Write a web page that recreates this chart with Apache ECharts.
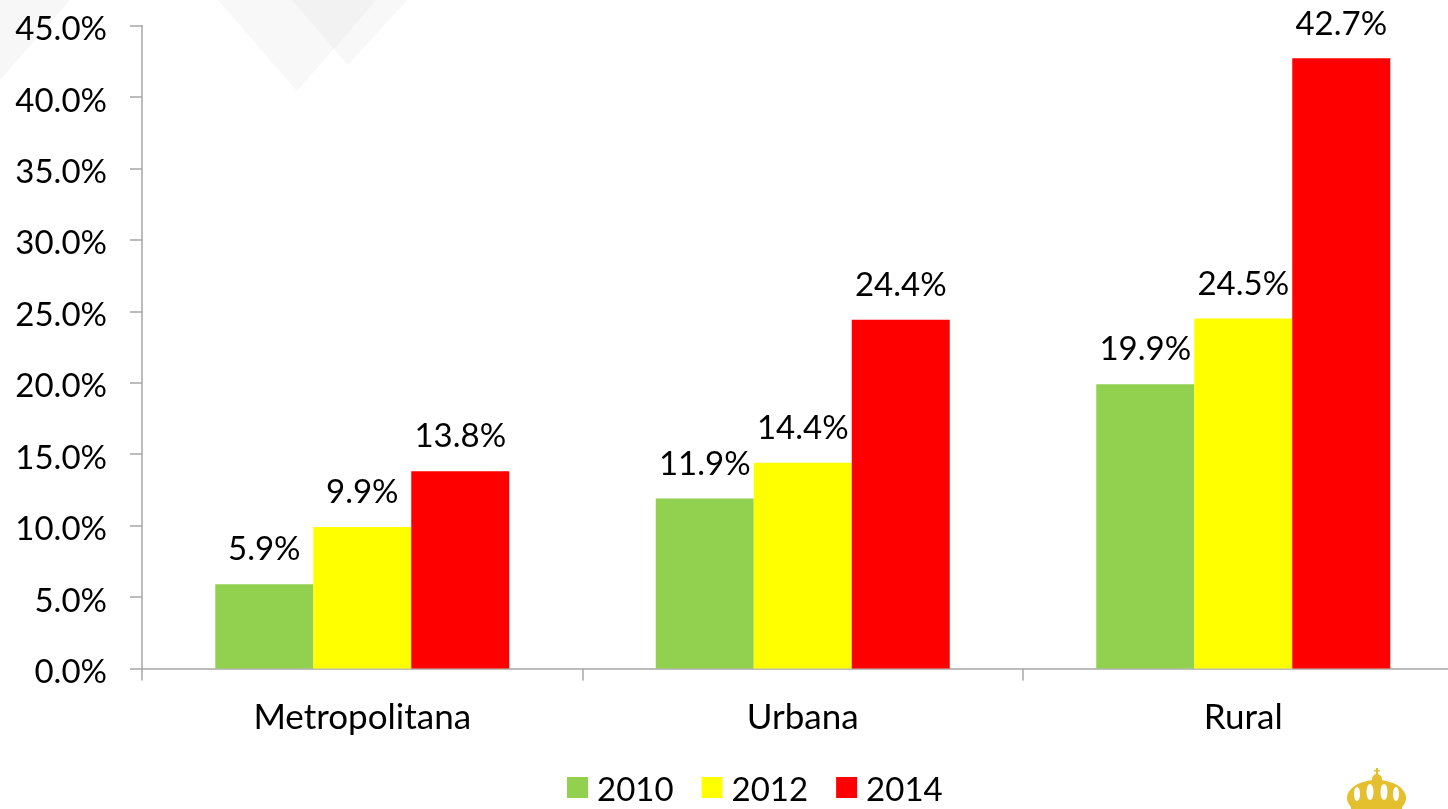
<!DOCTYPE html>
<html>
<head>
<meta charset="utf-8">
<title>Chart</title>
<script src="https://cdn.jsdelivr.net/npm/echarts@6/dist/echarts.min.js"></script>
<style>
  html, body { margin: 0; padding: 0; background: #fff; }
  #main { width: 1448px; height: 809px; }
</style>
</head>
<body>
<div id="main"></div>
<script>
const categories = ['Metropolitana', 'Urbana', 'Rural']
const values2010 = [5.9, 11.9, 19.9]
const values2012 = [9.9, 14.4, 24.5]
const values2014 = [13.8, 24.4, 42.7]

const font = 'Lato, "Open Sans", sans-serif'
const gold = '#E4C02E'

function barSeries (name, color, data) {
  return {
    name: name,
    type: 'bar',
    barWidth: 98,
    barGap: 0,
    itemStyle: { color: color },
    label: {
      show: true,
      position: 'top',
      distance: 18,
      color: '#000',
      fontFamily: font,
      fontSize: 33,
      formatter: p => p.value.toFixed(1) + '%'
    },
    data: data
  }
}

// faint watermark in the slide background and the crown logo in the corner
const decoration = [
  { type: 'polygon', z: -1, shape: { points: [[0, 0], [70, 0], [0, 80]] }, style: { fill: '#f7f7f7' } },
  { type: 'polygon', z: -1, shape: { points: [[218, 0], [297, 91], [376, 0]] }, style: { fill: '#f8f8f8' } },
  { type: 'polygon', z: -1, shape: { points: [[292, 0], [348, 65], [407, 0]] }, style: { fill: '#f8f8f8' } },
  { type: 'polygon', z: -1, shape: { points: [[292, 0], [334, 49], [376, 0]] }, style: { fill: '#f2f2f2' } },
  { type: 'ellipse', shape: { cx: 1376.5, cy: 798, rx: 29.5, ry: 18 }, style: { fill: gold } },
  { type: 'rect', shape: { x: 1351, y: 802, width: 51, height: 7 }, style: { fill: gold } },
  { type: 'circle', shape: { cx: 1377, cy: 779, r: 5 }, style: { fill: gold } },
  { type: 'rect', shape: { x: 1376, y: 768, width: 2, height: 8 }, style: { fill: gold } },
  { type: 'rect', shape: { x: 1374, y: 770, width: 6, height: 1.5 }, style: { fill: gold } },
  { type: 'ellipse', shape: { cx: 1357, cy: 794, rx: 3, ry: 7 }, style: { fill: '#fff' } },
  { type: 'ellipse', shape: { cx: 1370, cy: 792, rx: 3.5, ry: 8 }, style: { fill: '#fff' } },
  { type: 'ellipse', shape: { cx: 1384, cy: 792, rx: 3.5, ry: 8 }, style: { fill: '#fff' } },
  { type: 'ellipse', shape: { cx: 1396, cy: 794, rx: 3, ry: 7 }, style: { fill: '#fff' } }
]

const myChart = echarts.init(document.getElementById('main'))
myChart.setOption({
  animation: false,
  backgroundColor: '#fff',
  graphic: decoration,
  // the axis runs past the right edge of the picture in the original
  grid: { left: 142, top: 25.5, width: 1321.5, height: 643, containLabel: false, outerBoundsMode: 'none' },
  legend: {
    left: 562,
    top: 769,
    icon: 'rect',
    itemWidth: 21,
    itemHeight: 21,
    itemGap: 28,
    formatter: '{t|{name}}',
    textStyle: {
      color: '#000',
      fontFamily: font,
      fontSize: 33,
      rich: { t: { color: '#000', fontFamily: font, fontSize: 33, padding: [6, 0, 0, 4] } }
    },
    data: ['2010', '2012', '2014']
  },
  xAxis: {
    type: 'category',
    data: categories,
    axisLine: { lineStyle: { color: '#a6a6a6', width: 1.5 } },
    axisTick: { show: true, length: 12, lineStyle: { color: '#a6a6a6', width: 1.5 } },
    axisLabel: { color: '#000', fontFamily: font, fontSize: 35, margin: 32 }
  },
  yAxis: {
    type: 'value',
    min: 0,
    max: 45,
    interval: 5,
    splitLine: { show: false },
    axisLine: { show: true, lineStyle: { color: '#a6a6a6', width: 1.5 } },
    axisTick: { show: true, length: 12, lineStyle: { color: '#a6a6a6', width: 1.5 } },
    axisLabel: {
      color: '#000',
      fontFamily: font,
      fontSize: 33,
      margin: 35,
      verticalAlign: 'top',
      lineHeight: 8,
      formatter: v => v.toFixed(1) + '%'
    }
  },
  series: [
    barSeries('2010', '#92D050', values2010),
    barSeries('2012', '#FFFF00', values2012),
    barSeries('2014', '#FF0000', values2014)
  ]
})
</script>
</body>
</html>
